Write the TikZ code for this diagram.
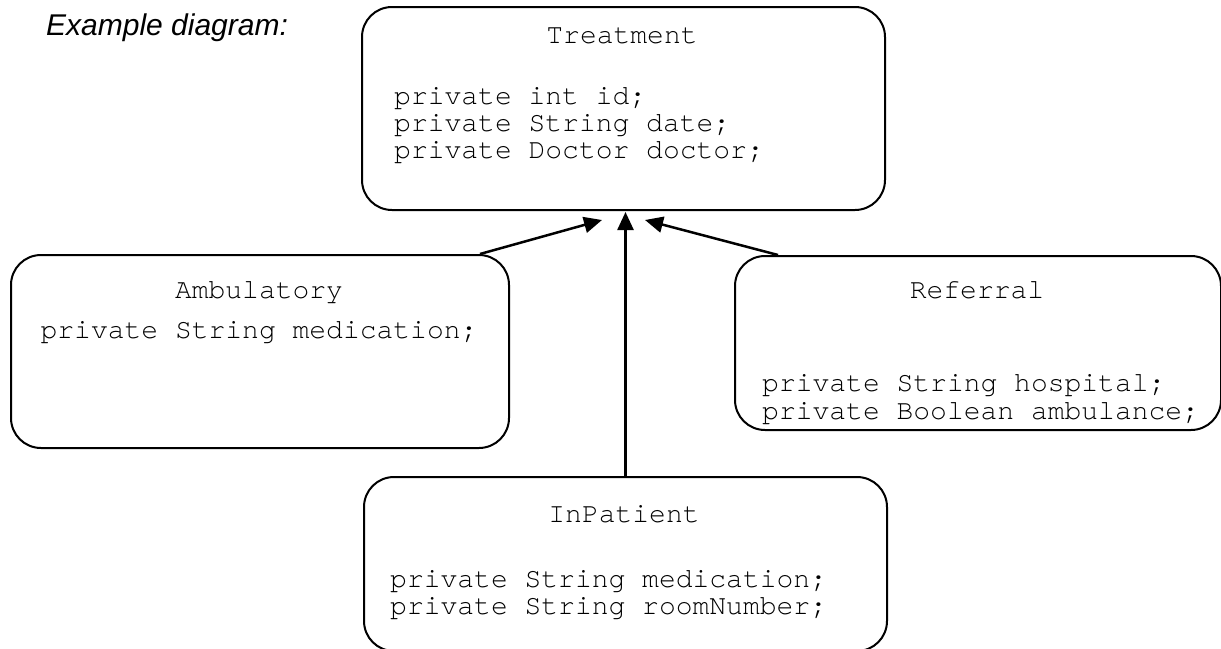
\documentclass[tikz,border=0pt]{standalone}
\usepackage{fontspec}
\setmainfont{Liberation Serif}
\setsansfont{Liberation Sans}
\setmonofont{TeX Gyre Cursor}
\usetikzlibrary{arrows.meta}
\begin{document}
\begin{tikzpicture}[x=1pt,y=-1pt,
  cls/.style={draw, line width=2pt, rounded corners=30pt, inner sep=0pt},
  mono/.style={font=\ttfamily\fontsize{28}{29}\selectfont, inner sep=0pt, anchor=base west},
  ttl/.style={font=\ttfamily\fontsize{28}{29}\selectfont, inner sep=0pt, anchor=base},
  inh/.style={line width=2.5pt, -{Triangle[length=18pt,width=16pt]}}]
\useasboundingbox (0,0) rectangle (1221,648);

\node[anchor=base west, inner sep=0pt, font=\sffamily\itshape\fontsize{30}{31}\selectfont] (ex) at (46,35) {Example diagram:};

% boxes
\node[cls, minimum width=523pt, minimum height=203pt, anchor=north west] (treat) at (361,6) {};
\node[cls, minimum width=498pt, minimum height=193pt, anchor=north west] (amb) at (10,254) {};
\node[cls, minimum width=486pt, minimum height=174pt, anchor=north west] (ref) at (734,255) {};
\node[cls, minimum width=523pt, minimum height=174pt, anchor=north west] (inp) at (363,476) {};

% Treatment
\node[ttl] (treatT) at (622,43) {Treatment};
\node[mono] (treat1) at (394,104) {private int id;};
\node[mono] (treat2) at (394,131) {private String date;};
\node[mono] (treat3) at (394,158) {private Doctor doctor;};

% Ambulatory
\node[ttl] (ambT) at (259,298) {Ambulatory};
\node[ttl] (amb1) at (259,338) {private String medication;};

% Referral
\node[ttl] (refT) at (977,298) {Referral};
\node[mono] (ref1) at (762,391) {private String hospital;};
\node[mono] (ref2) at (762,419) {private Boolean ambulance;};

% InPatient
\node[ttl] (inpT) at (624,522) {InPatient};
\node[mono] (inp1) at (390,587) {private String medication;};
\node[mono] (inp2) at (390,614) {private String roomNumber;};

% connectors
\coordinate (tipL) at (602,220);
\coordinate (tipM) at (624,212);
\coordinate (tipR) at (645,220);
\draw[inh] ([xshift=-30pt]amb.north east) -- (tipL);
\draw[inh] (inp.north) -- (inp.north |- tipM);
\draw[inh] ([xshift=44pt]ref.north west) -- (tipR);
\end{tikzpicture}
\end{document}
